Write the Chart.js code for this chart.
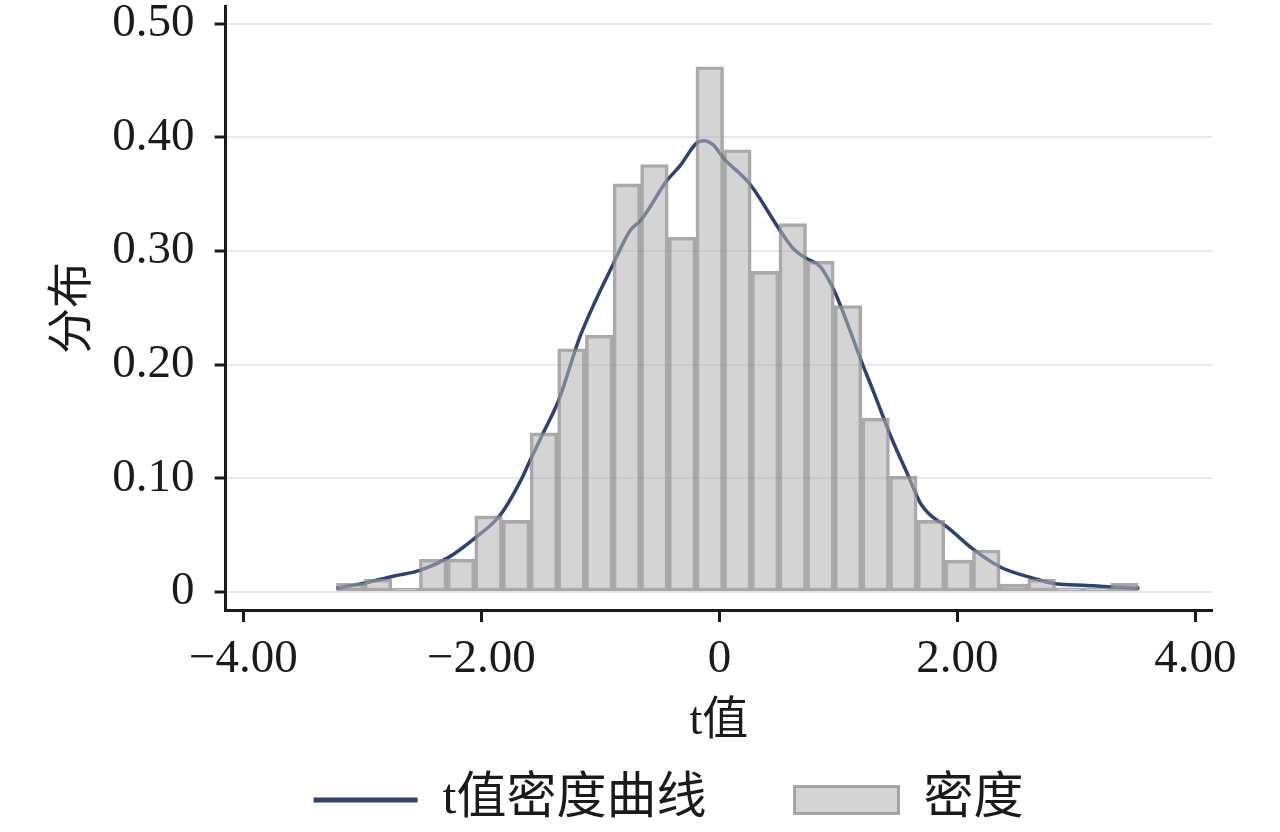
<!DOCTYPE html>
<html>
<head>
<meta charset="utf-8">
<title>t值分布</title>
<script src="https://cdn.jsdelivr.net/npm/chart.js@4.4.1/dist/chart.umd.min.js"></script>
<style>
  html, body { margin: 0; padding: 0; background: #fff; }
  #wrap { width: 1280px; height: 832px; position: relative; }
</style>
</head>
<body>
<div id="wrap"><canvas id="tChart"></canvas></div>
<script>
// Histogram bins (centres) and their density values
const binCenters = [-3.102, -2.870, -2.637, -2.405, -2.172, -1.940, -1.708, -1.475, -1.243, -1.010,
                    -0.778, -0.546, -0.313, -0.081, 0.151, 0.384, 0.616, 0.849, 1.081, 1.313,
                    1.546, 1.778, 2.011, 2.243, 2.475, 2.708, 2.940, 3.173, 3.405];
const binDensity = [0.0077, 0.0114, 0.0035, 0.029, 0.029, 0.067, 0.063, 0.140, 0.214, 0.226,
                    0.359, 0.376, 0.312, 0.462, 0.389, 0.282, 0.324, 0.291, 0.252, 0.153,
                    0.102, 0.063, 0.028, 0.037, 0.007, 0.0114, 0.0038, 0.0038, 0.0078];

// Kernel density curve, sampled along the drawn line
const curveX = [-3.22, -2.99, -2.76, -2.51, -2.29, -2.06, -1.84, -1.67, -1.59, -1.48,
                -1.35, -1.17, -0.89, -0.75, -0.66, -0.44, -0.33, -0.19, -0.13, -0.05,
                0.04, 0.23, 0.29, 0.51, 0.63, 0.74, 0.85, 0.96, 1.04, 1.14,
                1.20, 1.30, 1.44, 1.58, 1.69, 1.77, 1.91, 2.14, 2.36, 2.59,
                2.84, 3.06, 3.26, 3.53];
const curveY = [0.0033, 0.0077, 0.0135, 0.0193, 0.0296, 0.047, 0.068, 0.098, 0.116, 0.140,
                0.169, 0.225, 0.289, 0.318, 0.327, 0.362, 0.375, 0.395, 0.397, 0.393,
                0.381, 0.362, 0.354, 0.318, 0.301, 0.293, 0.286, 0.266, 0.246, 0.218,
                0.201, 0.175, 0.137, 0.104, 0.078, 0.068, 0.0575, 0.037, 0.022, 0.0135,
                0.007, 0.006, 0.0047, 0.0033];

const xTicks = [-4, -2, 0, 2, 4];
const yTicks = [0, 0.1, 0.2, 0.3, 0.4, 0.5];

const serif = "'Liberation Serif', 'Noto Sans CJK SC', serif";
const ink = '#1a1a1a';

Chart.defaults.font.family = serif;
Chart.defaults.color = ink;

function fmtX(v) {
    if (v === 0) return '0';
    return (v < 0 ? '\u2212' : '') + Math.abs(v).toFixed(2);
}

function fmtY(v) {
    return v === 0 ? '0' : v.toFixed(2);
}

const ctx = document.getElementById('tChart').getContext('2d');
new Chart(ctx, {
    type: 'bar',
    data: {
        datasets: [
            {
                type: 'line',
                label: 't值密度曲线',
                data: curveX.map((x, i) => ({ x: x, y: curveY[i] })),
                borderColor: '#2c4271',
                backgroundColor: '#2c4271',
                borderWidth: 3.5,
                pointRadius: 0,
                pointStyle: 'line',
                cubicInterpolationMode: 'monotone',
                fill: false,
                order: 1
            },
            {
                type: 'bar',
                label: '密度',
                data: binCenters.map((x, i) => ({ x: x, y: binDensity[i] })),
                backgroundColor: 'rgba(180, 180, 180, 0.57)',
                borderColor: 'rgba(140, 140, 140, 0.75)',
                borderWidth: 3,
                borderSkipped: false,
                barPercentage: 1,
                categoryPercentage: 1,
                pointStyle: 'rect',
                order: 0
            }
        ]
    },
    options: {
        responsive: true,
        maintainAspectRatio: false,
        animation: false,
        layout: { padding: { left: 40, right: 68, top: 6, bottom: -3 } },
        plugins: {
            tooltip: { enabled: false },
            legend: {
                position: 'bottom',
                fullSize: false,
                align: 'start',
                labels: {
                    usePointStyle: true,
                    pointStyleWidth: 104,
                    boxHeight: 27,
                    padding: 88,
                    color: ink,
                    font: { size: 50 },
                    sort: (a, b) => a.datasetIndex - b.datasetIndex,
                    generateLabels(chart) {
                        const items = Chart.defaults.plugins.legend.labels.generateLabels(chart);
                        items.forEach(it => {
                            if (it.datasetIndex === 0) {
                                it.pointStyle = 'line';
                                it.lineWidth = 5;
                            } else {
                                it.pointStyle = 'rect';
                                it.lineWidth = 3;
                            }
                        });
                        return items;
                    }
                }
            }
        },
        scales: {
            x: {
                type: 'linear',
                min: -4.15,
                max: 4.14,
                offset: false,
                afterBuildTicks: s => { s.ticks = xTicks.map(v => ({ value: v })); },
                grid: {
                    drawOnChartArea: false,
                    offset: false,
                    tickLength: 12,
                    tickWidth: 3,
                    tickColor: ink
                },
                border: { color: ink, width: 3 },
                ticks: {
                    padding: 14.5,
                    maxRotation: 0,
                    autoSkip: false,
                    font: { size: 47, lineHeight: 1 },
                    callback: v => fmtX(v)
                },
                title: {
                    display: true,
                    text: 't值',
                    font: { size: 46, lineHeight: 1.2 },
                    padding: { top: -3.6, bottom: -62.6 }
                }
            },
            y: {
                min: -0.0158,
                max: 0.5154,
                afterBuildTicks: s => { s.ticks = yTicks.map(v => ({ value: v })); },
                // let the plot start right under the top edge, like the original
                afterFit: s => { s.paddingTop = 0; },
                grid: {
                    color: '#e2ebe8',
                    lineWidth: 2,
                    tickLength: 11,
                    tickWidth: 3,
                    tickColor: ink
                },
                border: { color: ink, width: 3 },
                ticks: {
                    padding: 20,
                    font: { size: 47, lineHeight: 0.2 },
                    callback: v => fmtY(v)
                },
                title: {
                    display: true,
                    text: '分布',
                    font: { size: 46, lineHeight: 1.2 },
                    padding: { top: 6, bottom: -8.85 }
                }
            }
        }
    }
});
</script>
</body>
</html>
